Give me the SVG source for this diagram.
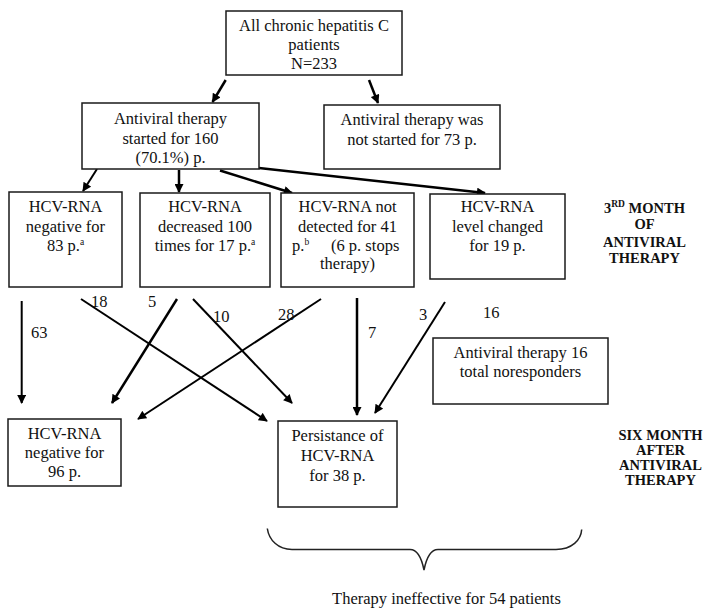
<svg xmlns="http://www.w3.org/2000/svg" width="708" height="608" viewBox="0 0 708 608">
<style>
  .box { fill: #fff; stroke: #1a1a1a; stroke-width: 1.5; }
  .t { font-family: "Liberation Serif", "Times New Roman", serif; font-size: 16.5px; fill: #111; text-anchor: middle; }
  .ts { text-anchor: start; }
  .lbl { font-family: "Liberation Serif", "Times New Roman", serif; font-size: 16.5px; fill: #111; }
  .h { font-family: "Liberation Serif", "Times New Roman", serif; font-size: 14.5px; font-weight: bold; fill: #111; text-anchor: middle; }
  .sup { font-size: 9.5px; }
  .c { stroke: #000; stroke-width: 2; fill: none; marker-end: url(#ah); }
  .thick { stroke-width: 2.5; }
  .brace { stroke: #222; stroke-width: 1.5; fill: none; }
</style>
<defs>
  <marker id="ah" viewBox="0 0 10 10" refX="9" refY="5" markerWidth="10" markerHeight="9" markerUnits="userSpaceOnUse" orient="auto">
    <path d="M0,0 L10,5 L0,10 z" fill="#000"/>
  </marker>
</defs>
<rect width="708" height="608" fill="#fff"/>

<g id="connectors">
  <line class="c thick" x1="225.7" y1="80" x2="212.5" y2="102"/>
  <line class="c thick" x1="369" y1="80" x2="378" y2="103"/>
  <line class="c" x1="97" y1="169" x2="83" y2="191"/>
  <line class="c thick" x1="179" y1="170" x2="179" y2="192"/>
  <line class="c thick" x1="220" y1="170.5" x2="292" y2="193"/>
  <line class="c thick" x1="259" y1="168" x2="485" y2="193"/>
  <line class="c" x1="21.7" y1="301" x2="21.7" y2="403"/>
  <line class="c" x1="81" y1="299" x2="267" y2="421"/>
  <line class="c thick" x1="177" y1="299" x2="112" y2="403"/>
  <line class="c" x1="193" y1="299" x2="292" y2="403"/>
  <line class="c" x1="321" y1="299" x2="138" y2="419"/>
  <line class="c thick" x1="357" y1="298" x2="357" y2="415"/>
  <line class="c" x1="445" y1="302" x2="375" y2="413"/>
</g>

<g id="edge-labels">
  <text class="lbl" x="31" y="338">63</text>
  <text class="lbl" x="91" y="306.5">18</text>
  <text class="lbl" x="148" y="306.5">5</text>
  <text class="lbl" x="213" y="321.5">10</text>
  <text class="lbl" x="278" y="320">28</text>
  <text class="lbl" x="368" y="338">7</text>
  <text class="lbl" x="419" y="320">3</text>
  <text class="lbl" x="483" y="318">16</text>
</g>

<g id="n-all">
  <rect class="box" x="226" y="11" width="176" height="64"/>
  <text class="t" x="314" y="31">All chronic hepatitis C</text>
  <text class="t" x="314" y="50">patients</text>
  <text class="t" x="314" y="68.5">N=233</text>
</g>

<g id="n-started">
  <rect class="box" x="82" y="103" width="177" height="66"/>
  <text class="t" x="170.5" y="123.5">Antiviral therapy</text>
  <text class="t" x="170.5" y="143.5">started for 160</text>
  <text class="t" x="170.5" y="163">(70.1%) p.</text>
</g>

<g id="n-notstarted">
  <rect class="box" x="324" y="105" width="176" height="64"/>
  <text class="t" x="412" y="125">Antiviral therapy was</text>
  <text class="t" x="412" y="144.5">not started for 73 p.</text>
</g>

<g id="n-neg83">
  <rect class="box" x="9" y="192" width="113" height="95"/>
  <text class="t" x="65.5" y="212">HCV-RNA</text>
  <text class="t" x="65.5" y="231.5">negative for</text>
  <text class="t" x="65.5" y="250.5">83 p.<tspan class="sup" dy="-6">a</tspan></text>
</g>

<g id="n-dec17">
  <rect class="box" x="140" y="193" width="130" height="94"/>
  <text class="t" x="205" y="212">HCV-RNA</text>
  <text class="t" x="205" y="231.5">decreased 100</text>
  <text class="t" x="205" y="250.5">times for 17 p.<tspan class="sup" dy="-6">a</tspan></text>
</g>

<g id="n-nd41">
  <rect class="box" x="281" y="193" width="133" height="94"/>
  <text class="t" x="347.5" y="212">HCV-RNA not</text>
  <text class="t" x="347.5" y="231.5">detected for 41</text>
  <text class="t ts" x="292" y="250.5">p.<tspan class="sup" dy="-6">b</tspan></text>
  <text class="t ts" x="331" y="250.5">(6 p. stops</text>
  <text class="t" x="347.5" y="269">therapy)</text>
</g>

<g id="n-level19">
  <rect class="box" x="430" y="194" width="135" height="85"/>
  <text class="t" x="497.5" y="212">HCV-RNA</text>
  <text class="t" x="497.5" y="231.5">level changed</text>
  <text class="t" x="497.5" y="250.5">for 19 p.</text>
</g>

<g id="n-noresp">
  <rect class="box" x="433" y="338" width="175" height="66"/>
  <text class="t" x="520.5" y="357.5">Antiviral therapy 16</text>
  <text class="t" x="520.5" y="376.5">total noresponders</text>
</g>

<g id="n-neg96">
  <rect class="box" x="8" y="419" width="113" height="67"/>
  <text class="t" x="64.5" y="439">HCV-RNA</text>
  <text class="t" x="64.5" y="458">negative for</text>
  <text class="t" x="64.5" y="477">96 p.</text>
</g>

<g id="n-persist">
  <rect class="box" x="278" y="421" width="119" height="86"/>
  <text class="t" x="337.5" y="440.5">Persistance of</text>
  <text class="t" x="337.5" y="460.5">HCV-RNA</text>
  <text class="t" x="337.5" y="480.5">for 38 p.</text>
</g>

<g id="label-3rd">
  <text class="h" x="644.5" y="213">3<tspan class="sup" dy="-6">RD</tspan><tspan dy="6"> MONTH</tspan></text>
  <text class="h" x="644.5" y="229">OF</text>
  <text class="h" x="644.5" y="246.5">ANTIVIRAL</text>
  <text class="h" x="644.5" y="263">THERAPY</text>
</g>

<g id="label-six">
  <text class="h" x="660.5" y="440">SIX MONTH</text>
  <text class="h" x="660.5" y="454.5">AFTER</text>
  <text class="h" x="660.5" y="470">ANTIVIRAL</text>
  <text class="h" x="660.5" y="485">THERAPY</text>
</g>

<g id="brace">
  <path class="brace" d="M267.3,528.5 C269,540 278,549.5 292,549.5 L410,549.5 C418,549.5 422,560 424,570 C426,560 430,549.5 438,549.5 L556,549.5 C572,549.5 581,540 581.7,529.5"/>
  <text class="t" x="446.5" y="603.5">Therapy ineffective for 54 patients</text>
</g>
</svg>
